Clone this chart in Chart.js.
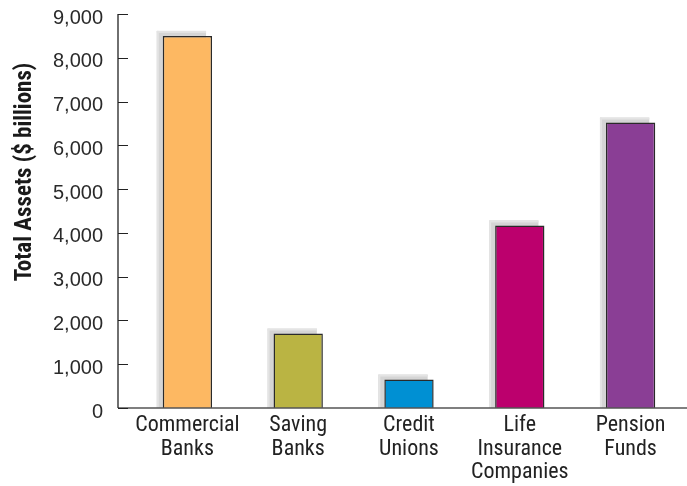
<!DOCTYPE html>
<html>
<head>
<meta charset="utf-8">
<script src="https://cdn.jsdelivr.net/npm/chart.js@4/dist/chart.umd.min.js"></script>
<style>
html,body{margin:0;padding:0;background:#fff;}
canvas{display:block;}
</style>
</head>
<body>
<canvas id="c" width="687" height="486"></canvas>
<script>
const categories = [["Commercial","Banks"],["Saving","Banks"],["Credit","Unions"],["Life","Insurance","Companies"],["Pension","Funds"]];
const totalAssets = [8500, 1700, 650, 4170, 6520];
const barColors = ["#FDB862", "#BAB443", "#0090D3", "#BC006D", "#8A3E95"];
const yTicks = [0,1000,2000,3000,4000,5000,6000,7000,8000,9000];
const yTitle = "Total Assets ($ billions)";

const NARROW = '"Roboto Condensed", "DejaVu Sans Condensed", sans-serif';
const REGULAR = '"Liberation Sans", Arimo, sans-serif';

const decor = {
  id: 'decor',
  beforeDatasetsDraw(chart) {
    const ctx = chart.ctx;
    const meta = chart.getDatasetMeta(0);
    ctx.save();
    meta.data.forEach(bar => {
      const p = bar.getProps(['x','y','base','width'], true);
      const left = p.x - p.width/2 - 6;
      const top = p.y - 5;
      ctx.fillStyle = '#d5d5d5';
      ctx.fillRect(left, top, p.width, p.base - top);
      ctx.fillStyle = '#e4e4e4';
      ctx.fillRect(left, top, 2, p.base - top);
      ctx.fillRect(left, top, p.width, 2);
    });
    ctx.restore();
  },
  afterDraw(chart) {
    const ctx = chart.ctx;
    const y = chart.scales.y;
    const area = chart.chartArea;
    const axX = area.left - 14;
    ctx.save();
    ctx.strokeStyle = '#555';
    ctx.lineWidth = 1.5;
    ctx.beginPath();
    ctx.moveTo(axX, y.getPixelForValue(0));
    ctx.lineTo(chart.width, y.getPixelForValue(0));
    ctx.stroke();
    ctx.strokeStyle = '#222';
    ctx.lineWidth = 1.3;
    ctx.beginPath();
    ctx.moveTo(axX, y.getPixelForValue(yTicks[yTicks.length-1]));
    ctx.lineTo(axX, y.getPixelForValue(0));
    ctx.stroke();
    ctx.lineWidth = 1;
    yTicks.forEach(v => {
      const py = Math.round(y.getPixelForValue(v)) + 0.5;
      ctx.beginPath();
      ctx.moveTo(axX, py);
      ctx.lineTo(axX + 10, py);
      ctx.stroke();
    });
    ctx.fillStyle = '#1a1a1a';
    ctx.font = 'bold 23px ' + NARROW;
    ctx.textAlign = 'center';
    ctx.textBaseline = 'alphabetic';
    ctx.translate(31, 172);
    ctx.rotate(-Math.PI/2);
    ctx.fillText(yTitle, 0, 0);
    ctx.restore();
  }
};

function build() {
  new Chart(document.getElementById('c'), {
    type: 'bar',
    data: {
      labels: categories,
      datasets: [{
        data: totalAssets,
        backgroundColor: barColors,
        borderColor: '#2a2a2a',
        borderWidth: 1.5,
        categoryPercentage: 1,
        barPercentage: 0.445
      }]
    },
    options: {
      responsive: false,
      animation: false,
      layout: { padding: { top: 14, right: 1, bottom: 0, left: 0 } },
      plugins: { legend: { display: false }, tooltip: { enabled: false } },
      scales: {
        x: {
          grid: { display: false, drawTicks: false },
          border: { display: false },
          afterFit: s => { s.height = 78; s.paddingLeft = 0; s.paddingRight = 0; },
          ticks: {
            color: '#222',
            padding: 6,
            maxRotation: 0,
            autoSkip: false,
            font: { family: NARROW, size: 22, lineHeight: 1.07 }
          }
        },
        y: {
          min: 0, max: 9000,
          grid: { display: false, drawTicks: false },
          border: { display: false },
          afterFit: s => { s.width = 132; s.paddingTop = 0; s.paddingBottom = 0; },
          afterBuildTicks: s => { s.ticks = yTicks.map(v => ({ value: v })); },
          ticks: {
            color: '#2a2a2a',
            padding: 29,
            labelOffset: 4,
            font: { family: REGULAR, size: 20 },
            callback: v => v.toLocaleString('en-US')
          }
        }
      }
    },
    plugins: [decor]
  });
}

Promise.all([
  document.fonts.load('20px "Liberation Sans"'),
  document.fonts.load('22px "Roboto Condensed"'),
  document.fonts.load('bold 23px "Roboto Condensed"')
]).then(build, build);
</script>
</body>
</html>
